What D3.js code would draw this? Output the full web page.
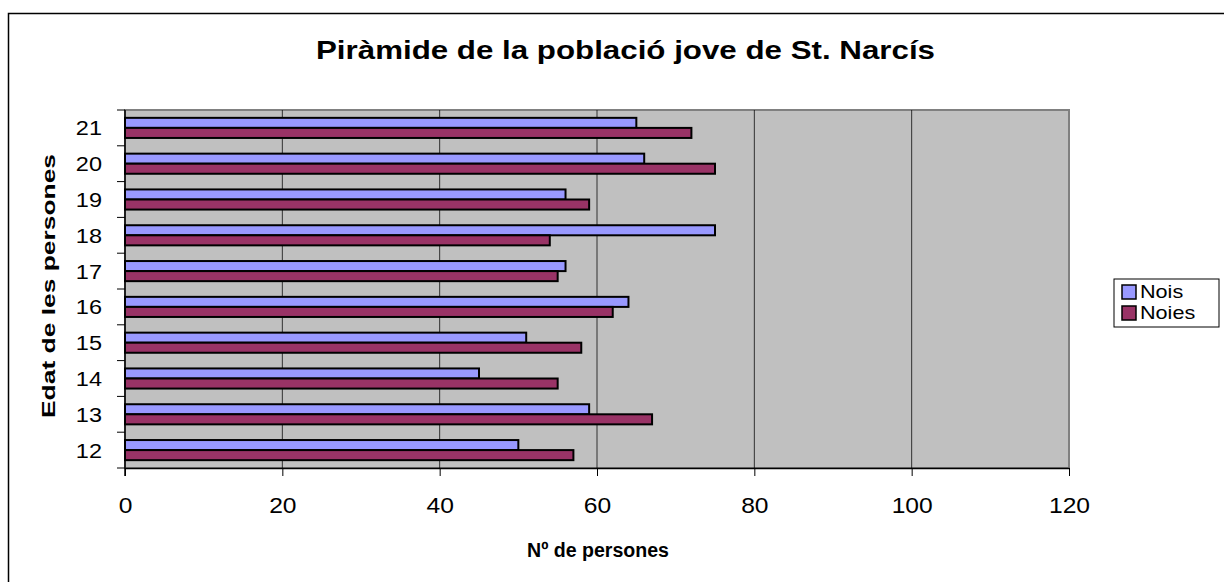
<!DOCTYPE html>
<html>
<head>
<meta charset="utf-8">
<script src="https://cdn.jsdelivr.net/npm/d3@7"></script>
<style>
  body { margin: 0; background: #fff; }
  svg { display: block; font-family: Arial, "Liberation Sans", sans-serif; }
</style>
</head>
<body>
<div id="chart"></div>
<script>
// ages, bottom to top as they appear
const ages = ["12", "13", "14", "15", "16", "17", "18", "19", "20", "21"];
const nois = [50, 59, 45, 51, 64, 56, 75, 56, 66, 65];
const noies = [57, 67, 55, 58, 62, 55, 54, 59, 75, 72];
const seriesNames = ["Nois", "Noies"];
const seriesColors = ["#9999ff", "#993366"];
const xTicks = [0, 20, 40, 60, 80, 100, 120];

const width = 1224, height = 582;
const plot = { left: 125, right: 1069, top: 110, bottom: 468 };
const font = "Arial, 'Liberation Sans', sans-serif";
const stretch = 1.12; // the original text is a bit wider than Arial

const svg = d3.select("#chart").append("svg")
    .attr("width", width)
    .attr("height", height);

// outer chart frame (runs off the picture on the right and bottom)
svg.append("path")
    .attr("d", `M 8.5 ${height + 5} L 8.5 13.5 L ${width + 5} 13.5`)
    .attr("fill", "none")
    .attr("stroke", "#000")
    .attr("stroke-width", 1.5);

const x = d3.scaleLinear().domain([0, 120]).range([plot.left, plot.right]);

// top-to-bottom order: 21 at top
const y = d3.scaleBand().domain(ages.slice().reverse()).range([plot.top, plot.bottom]);
const inner = d3.scaleBand().domain(seriesNames).range([0, y.bandwidth()]).paddingOuter(0.78).paddingInner(0);

// plot background
svg.append("rect")
    .attr("x", plot.left).attr("y", plot.top)
    .attr("width", plot.right - plot.left).attr("height", plot.bottom - plot.top)
    .attr("fill", "#c0c0c0")
    .attr("stroke", "#808080")
    .attr("stroke-width", 2);

// gridlines
svg.append("g").selectAll("line")
    .data(xTicks.slice(1, -1))
    .join("line")
    .attr("x1", d => x(d)).attr("x2", d => x(d))
    .attr("y1", plot.top).attr("y2", plot.bottom)
    .attr("stroke", "#000")
    .attr("stroke-width", 1)
    .attr("stroke-opacity", 0.75);

// bars
const rows = ages.map((a, i) => ({ age: a, values: [nois[i], noies[i]] }));
const group = svg.append("g").selectAll("g")
    .data(rows)
    .join("g")
    .attr("transform", d => `translate(0,${y(d.age)})`);

group.selectAll("rect")
    .data(d => d.values.map((v, j) => ({ name: seriesNames[j], value: v, color: seriesColors[j] })))
    .join("rect")
    .attr("x", x(0))
    .attr("y", d => inner(d.name))
    .attr("width", d => x(d.value) - x(0))
    .attr("height", inner.bandwidth())
    .attr("fill", d => d.color)
    .attr("stroke", "#000")
    .attr("stroke-width", 2);

// x axis
const xAxis = svg.append("g")
    .attr("transform", `translate(0,${plot.bottom})`)
    .call(d3.axisBottom(x).tickValues(xTicks).tickSize(8).tickSizeOuter(0).tickPadding(0));
xAxis.select(".domain").attr("stroke", "#000").attr("stroke-width", 1.5);
xAxis.selectAll(".tick line").attr("stroke", "#000");
xAxis.selectAll("text")
    .attr("font-size", 22).attr("fill", "#000").attr("font-family", font)
    .attr("y", 45).attr("dy", null)
    .attr("transform", `scale(${stretch},1)`);

// y axis: ticks between categories
const yAxis = svg.append("g")
    .attr("transform", `translate(${plot.left},0)`)
    .call(d3.axisLeft(y).tickSize(0).tickPadding(0));
yAxis.select(".domain").attr("stroke", "#000").attr("stroke-width", 1.5)
    .attr("d", `M0,${plot.top}V${plot.bottom + 8}`);
yAxis.selectAll("text")
    .attr("font-size", 21).attr("fill", "#000").attr("font-family", font)
    .attr("x", -23 / stretch).attr("dy", "0.36em")
    .attr("transform", `scale(${stretch},1)`);
yAxis.append("g").selectAll("line")
    .data(ages.concat(["_"]))
    .join("line")
    .attr("x1", -8).attr("x2", 0)
    .attr("y1", (d, i) => plot.top + i * y.step())
    .attr("y2", (d, i) => plot.top + i * y.step())
    .attr("stroke", "#000");

// title
svg.append("text")
    .attr("x", 316).attr("y", 59)
    .attr("font-size", 25).attr("font-weight", "bold")
    .attr("textLength", 619).attr("lengthAdjust", "spacingAndGlyphs")
    .text("Piràmide de la població jove de St. Narcís");

// axis titles
svg.append("text")
    .attr("x", 527).attr("y", 557)
    .attr("font-size", 20).attr("font-weight", "bold")
    .attr("textLength", 142).attr("lengthAdjust", "spacingAndGlyphs")
    .text("Nº de persones");

svg.append("text")
    .attr("transform", `translate(55,418) rotate(-90)`)
    .attr("font-size", 19).attr("font-weight", "bold")
    .attr("textLength", 264).attr("lengthAdjust", "spacingAndGlyphs")
    .text("Edat de les persones");

// legend
const legend = svg.append("g").attr("transform", "translate(1114,279)");
legend.append("rect")
    .attr("width", 105).attr("height", 48)
    .attr("fill", "#fff").attr("stroke", "#000").attr("stroke-width", 1);
const items = legend.selectAll("g.item")
    .data(seriesNames)
    .join("g")
    .attr("class", "item")
    .attr("transform", (d, i) => `translate(8,${13 + i * 21})`);
items.append("rect")
    .attr("x", 0).attr("y", -7)
    .attr("width", 14).attr("height", 14)
    .attr("fill", (d, i) => seriesColors[i])
    .attr("stroke", "#000").attr("stroke-width", 1.5);
items.append("text")
    .attr("x", 18 / 1.2).attr("y", 0)
    .attr("dy", "0.36em")
    .attr("font-size", 18)
    .attr("transform", "scale(1.2,1)")
    .text(d => d);
</script>
</body>
</html>
